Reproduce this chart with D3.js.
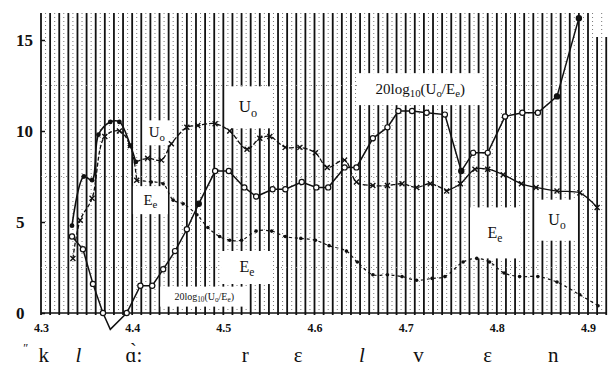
<!DOCTYPE html>
<html>
<head>
<meta charset="utf-8">
<script src="https://cdn.jsdelivr.net/npm/d3@7"></script>
<style>
  body { margin: 0; background: #fff; }
  svg { display: block; font-family: "Liberation Serif", "DejaVu Serif", serif; }
</style>
</head>
<body>
<svg id="chart"></svg>
<script>
// Values (time in s, amplitude in arbitrary units / dB)
const uoTime = [4.334, 4.347, 4.356, 4.363, 4.376, 4.386, 4.398, 4.404, 4.417, 4.432, 4.443, 4.460, 4.472,
  4.491, 4.507, 4.526, 4.540, 4.551, 4.568, 4.584, 4.601, 4.614, 4.633, 4.646, 4.664, 4.680, 4.696, 4.712,
  4.727, 4.745, 4.760, 4.776, 4.790, 4.807, 4.827, 4.843, 4.866, 4.891, 4.910];
const uoValue = [4.8, 7.5, 7.3, 9.8, 10.5, 10.5, 9.2, 8.3, 8.5, 8.4, 9.3, 10.2, 10.3,
  10.4, 10.0, 9.0, 9.6, 9.7, 9.1, 9.1, 8.8, 8.0, 8.4, 7.2, 7.0, 7.0, 7.1, 6.9,
  7.1, 6.7, 7.1, 7.9, 7.9, 7.6, 7.1, 6.9, 6.7, 6.6, 5.8];

const eeTime = [4.335, 4.343, 4.356, 4.370, 4.386, 4.398, 4.405, 4.421, 4.434, 4.445, 4.456, 4.471, 4.483,
  4.496, 4.507, 4.520, 4.536, 4.553, 4.568, 4.585, 4.601, 4.616, 4.635, 4.647, 4.664, 4.680, 4.696, 4.712,
  4.729, 4.743, 4.763, 4.778, 4.792, 4.808, 4.825, 4.845, 4.866, 4.891, 4.911];
const eeValue = [3.0, 5.1, 6.3, 9.7, 10.0, 9.2, 7.3, 7.2, 7.1, 6.2, 6.0, 5.4, 4.7,
  4.2, 4.0, 4.0, 4.5, 4.5, 4.2, 4.1, 4.0, 3.7, 3.4, 2.8, 2.1, 2.1, 2.0, 1.8,
  1.9, 2.0, 2.8, 3.0, 2.8, 2.2, 2.0, 2.0, 1.7, 1.0, 0.4];

const ratioTime = [4.334, 4.346, 4.357, 4.368, 4.376, 4.394, 4.409, 4.422, 4.434, 4.447, 4.460, 4.473, 4.491,
  4.506, 4.523, 4.536, 4.554, 4.568, 4.586, 4.602, 4.615, 4.633, 4.646, 4.664, 4.680, 4.692, 4.707,
  4.723, 4.743, 4.761, 4.774, 4.790, 4.809, 4.828, 4.845, 4.866, 4.890];
const ratioValue = [4.2, 3.5, 1.6, 0, -0.9, 0, 1.5, 1.5, 2.4, 3.4, 4.6, 6.0, 7.8,
  7.8, 6.9, 6.4, 6.8, 6.8, 7.2, 6.9, 6.9, 8.0, 8.0, 9.6, 10.2, 11.1, 11.1,
  11.0, 10.9, 7.8, 8.8, 8.8, 10.8, 11.0, 11.0, 11.9, 16.2];

const xTicks = [4.3, 4.4, 4.5, 4.6, 4.7, 4.8, 4.9];
const yTicks = [0, 5, 10, 15];

const phoneText = ['k', 'l', 'ɑ̀:', 'r', 'ɛ', 'l', 'v', 'ɛ', 'n'];
const phoneTime = [4.303, 4.341, 4.402, 4.524, 4.582, 4.652, 4.714, 4.790, 4.862];

const width = 611, height = 369;
const svg = d3.select('#chart').attr('width', width).attr('height', height);

const x = d3.scaleLinear().domain([4.3, 4.9]).range([41, 588]);
const y = d3.scaleLinear().domain([0, 15]).range([313, 40]);

// vertical strip grid (every 10 ms) with faint dotted lines in between
const gridT = d3.range(0, 63).map(i => 4.3 + i * 0.01);
svg.append('g').selectAll('line').data(gridT).join('line')
  .attr('x1', d => x(d)).attr('x2', d => x(d))
  .attr('y1', d => d > 4.905 ? 37 : 13).attr('y2', 315)
  .attr('stroke', '#111').attr('stroke-width', 1.8);
svg.append('g').selectAll('line').data(gridT.slice(0, -1)).join('line')
  .attr('x1', d => x(d + 0.005)).attr('x2', d => x(d + 0.005))
  .attr('y1', 13).attr('y2', 313)
  .attr('stroke', '#777').attr('stroke-width', 1).attr('stroke-dasharray', '1,3');
svg.append('g').selectAll('line').data([2.5, 7.5, 12.5]).join('line')
  .attr('x1', x(4.3)).attr('x2', x(4.92))
  .attr('y1', d => y(d)).attr('y2', d => y(d))
  .attr('stroke', '#888').attr('stroke-dasharray', '1,4');

// white boxes behind the curve labels
const notes = [
  { t: 4.527, v: 11.3, kind: 'Uo', size: 17, w: 46, h: 42 },
  { t: 4.427, v: 9.9, kind: 'Uo', size: 15, w: 28, h: 25 },
  { t: 4.420, v: 6.2, kind: 'Ee', size: 15, w: 35, h: 28 },
  { t: 4.526, v: 2.5, kind: 'Ee', size: 16, w: 52, h: 33 },
  { t: 4.479, v: 0.9, kind: 'R', size: 10, w: 88, h: 20 },
  { t: 4.716, v: 12.3, kind: 'R', size: 15, w: 124, h: 32 },
  { t: 4.798, v: 4.4, kind: 'Ee', size: 16, w: 50, h: 51 },
  { t: 4.866, v: 5.1, kind: 'Uo', size: 16, w: 40, h: 41 }
];
svg.append('g').selectAll('rect').data(notes).join('rect')
  .attr('x', d => x(d.t) - d.w / 2).attr('y', d => y(d.v) - d.h / 2)
  .attr('width', d => d.w).attr('height', d => d.h)
  .attr('fill', '#fff');

// axes
svg.append('line')
  .attr('x1', x(4.3)).attr('x2', x(4.92)).attr('y1', y(0)).attr('y2', y(0))
  .attr('stroke', '#111').attr('stroke-width', 1.5);

svg.append('g')
  .attr('transform', `translate(${x(4.3)},0)`)
  .call(d3.axisLeft(y).tickValues(yTicks).tickSize(-4).tickFormat(d3.format('d')))
  .call(g => g.select('.domain').remove())
  .call(g => g.selectAll('line').attr('stroke', '#111').attr('stroke-width', 1.5))
  .call(g => g.selectAll('text')
    .attr('x', 16 - x(4.3)).attr('text-anchor', 'start')
    .attr('font-family', '"Liberation Serif", serif')
    .attr('font-size', 17).attr('font-weight', 'bold').attr('fill', '#111'));

svg.append('g')
  .attr('transform', `translate(0,${y(0)})`)
  .call(d3.axisBottom(x).tickValues(xTicks).tickSize(0).tickPadding(10).tickFormat(d3.format('.1f')))
  .call(g => g.select('.domain').remove())
  .call(g => g.selectAll('text')
    .attr('font-family', '"Liberation Serif", serif')
    .attr('font-size', 12).attr('font-weight', 'bold').attr('fill', '#111'));

// curves
const pts = (ts, vs) => ts.map((t, i) => ({ t, v: vs[i], i }));
const uo = pts(uoTime, uoValue);
const ee = pts(eeTime, eeValue);
const ratio = pts(ratioTime, ratioValue);

const line = d3.line().x(d => x(d.t)).y(d => y(d.v)).curve(d3.curveCatmullRom.alpha(0.5));
const poly = d3.line().x(d => x(d.t)).y(d => y(d.v));

const plot = svg.append('g').attr('fill', 'none').attr('stroke', '#111');

// 20log10(Uo/Ee): solid polyline
plot.append('path').datum(ratio).attr('d', poly).attr('stroke-width', 1.5);

// Uo: solid start, dashed middle, solid end
plot.append('path').datum(uo.slice(0, 8)).attr('d', line).attr('stroke-width', 1.6);
plot.append('path').datum(uo.slice(7, 30)).attr('d', line).attr('stroke-width', 1.3)
  .attr('stroke-dasharray', '5,2');
plot.append('path').datum(uo.slice(29)).attr('d', line).attr('stroke-width', 1.3);

// Ee: dashed
plot.append('path').datum(ee.slice(0, 7)).attr('d', line).attr('stroke-width', 1.3)
  .attr('stroke-dasharray', '4,2');
plot.append('path').datum(ee.slice(6)).attr('d', line).attr('stroke-width', 1.2)
  .attr('stroke-dasharray', '3,3');

// markers
const cross = 'M-2.5,-2.5L2.5,2.5M-2.5,2.5L2.5,-2.5';
const filledRatio = new Set([11, 29, 35, 36]);

svg.append('g').selectAll('circle').data(ratio.filter(d => d.i !== 4)).join('circle')
  .attr('cx', d => x(d.t)).attr('cy', d => y(d.v)).attr('r', 2.6)
  .attr('fill', d => filledRatio.has(d.i) ? '#111' : '#fff')
  .attr('stroke', '#111').attr('stroke-width', 1.2);

svg.append('g').selectAll('circle').data(uo.slice(0, 8)).join('circle')
  .attr('cx', d => x(d.t)).attr('cy', d => y(d.v)).attr('r', 2.4).attr('fill', '#111');
svg.append('g').selectAll('path').data(uo.slice(8)).join('path')
  .attr('transform', d => `translate(${x(d.t)},${y(d.v)})`)
  .attr('d', cross).attr('stroke', '#111').attr('stroke-width', 1.4);

svg.append('g').selectAll('path').data(ee.slice(0, 7)).join('path')
  .attr('transform', d => `translate(${x(d.t)},${y(d.v)})`)
  .attr('d', cross).attr('stroke', '#111').attr('stroke-width', 1.4);
svg.append('g').selectAll('circle').data(ee.slice(7)).join('circle')
  .attr('cx', d => x(d.t)).attr('cy', d => y(d.v)).attr('r', 1.8).attr('fill', '#111');

// curve labels
const labels = svg.append('g').attr('fill', '#111').attr('text-anchor', 'middle');
notes.forEach(n => {
  const t = labels.append('text')
    .attr('x', x(n.t)).attr('y', y(n.v) + n.size * 0.3)
    .attr('font-size', n.size);
  const sub = n.size * 0.72;
  if (n.kind === 'Uo') {
    t.append('tspan').text('U');
    t.append('tspan').attr('font-size', sub).attr('dy', n.size * 0.25).text('o');
  } else if (n.kind === 'Ee') {
    t.append('tspan').text('E');
    t.append('tspan').attr('font-size', sub).attr('dy', n.size * 0.25).text('e');
  } else {
    t.append('tspan').text('20log');
    t.append('tspan').attr('font-size', sub).attr('dy', n.size * 0.25).text('10');
    t.append('tspan').attr('dy', -n.size * 0.25).text('(U');
    t.append('tspan').attr('font-size', sub).attr('dy', n.size * 0.25).text('o');
    t.append('tspan').attr('dy', -n.size * 0.25).text('/E');
    t.append('tspan').attr('font-size', sub).attr('dy', n.size * 0.25).text('e');
    t.append('tspan').attr('dy', -n.size * 0.25).text(')');
  }
});

// phonetic transcription under the axis
const phones = svg.append('g').attr('fill', '#111').attr('text-anchor', 'middle');
phones.append('text')
  .attr('x', x(4.283)).attr('y', 352).attr('font-size', 12).text('ʺ');
phones.selectAll('text.ph').data(phoneText).join('text')
  .attr('class', 'ph')
  .attr('x', (d, i) => x(phoneTime[i])).attr('y', 362)
  .attr('font-size', 21)
  .attr('font-style', (d, i) => d === 'l' ? 'italic' : null)
  .text(d => d);
</script>
</body>
</html>
